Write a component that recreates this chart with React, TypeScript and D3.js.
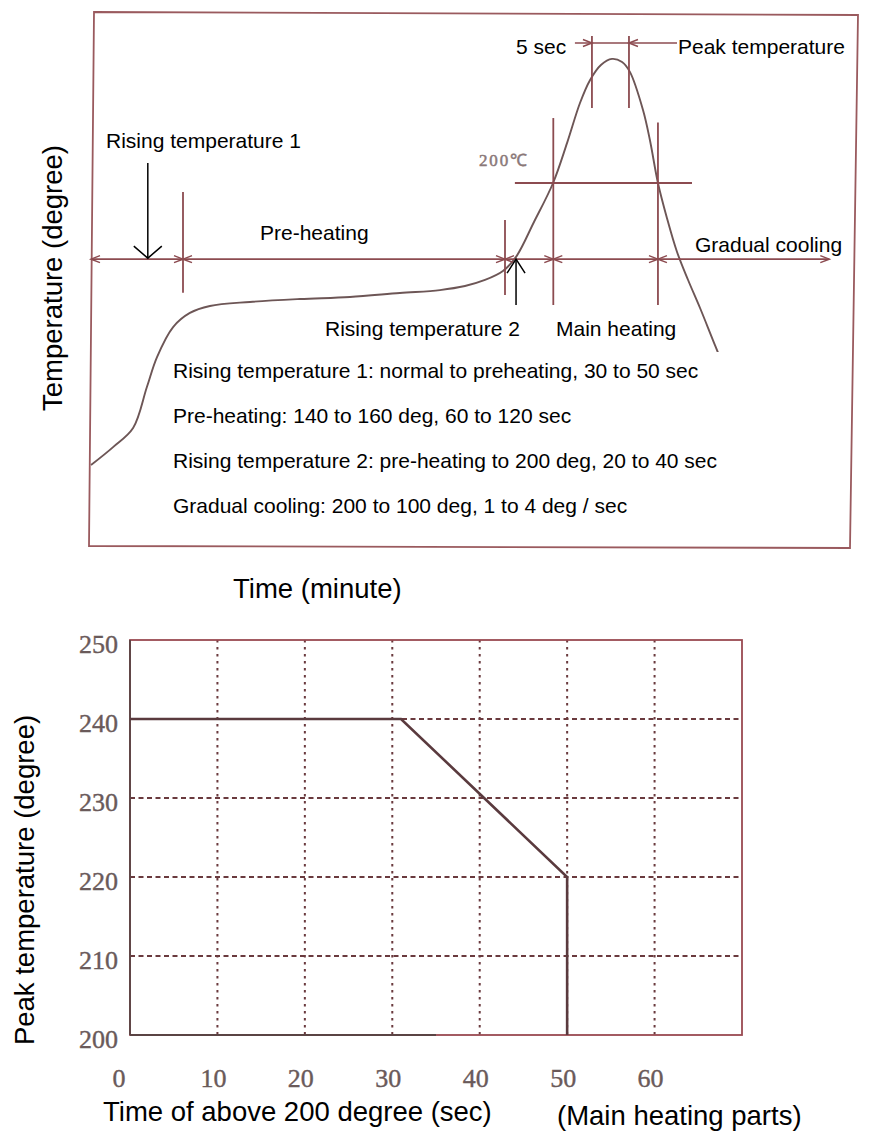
import React from 'react';
import * as d3 from 'd3';

// ---------- Top chart: reflow profile (schematic) ----------
const profileTime = [0, 9.6, 18.3, 24.3, 28.7, 35.7, 43.0, 51.7, 69.1, 90.9, 112.6, 134.3, 151.7, 162.6, 171.3, 179.1, 184.8, 192.6, 200.9, 207.0, 212.6, 217.0, 221.7, 226.5, 230.9, 234.3, 240.0, 243.0, 246.5, 250.4, 254.8, 259.6, 264.8, 270.4, 274.3, 280];
const profileTemp = [74.1, 82.1, 90.6, 108.9, 122.3, 135.7, 142.0, 145.1, 146.9, 148.2, 149.1, 150.9, 152.2, 154.0, 156.7, 160.7, 167.0, 182.6, 200, 217.9, 235.7, 246.0, 252.7, 255.4, 254.0, 249.6, 232.6, 219.2, 200, 184.4, 169.2, 156.7, 144.2, 129.9, 120.1, 107.6];

const phaseBounds = [0, 40, 180, 201, 246.5, 321];
const boundaryTickTimes = [40, 180, 201, 246.5];
const boundaryTickLow = [151, 150, 145.5, 145.5];
const boundaryTickHigh = [196, 183.5, 229, 227];
const phaseDimTemp = 166;
const reflowTemp = 200;
const reflowLineSpan = [184.3, 261.3];
const peakWindow = [217.8, 233.9];
const peakTickSpan = [233.5, 265.6];
const peakDimTemp = 262.5;
const peakDimSpan = [210.4, 254.8];
const rise1ArrowTime = 24.7;
const rise2ArrowTime = 184.8;

const notes = [
  'Rising temperature 1: normal to preheating, 30 to 50 sec',
  'Pre-heating: 140 to 160 deg, 60 to 120 sec',
  'Rising temperature 2: pre-heating to 200 deg, 20 to 40 sec',
  'Gradual cooling: 200 to 100 deg, 1 to 4 deg / sec',
];

// ---------- Bottom chart: peak temperature vs time above 200 ----------
const limitTime = [0, 31, 50, 50];
const limitPeak = [240, 240, 220, 200];
const xTickValues = [0, 10, 20, 30, 40, 50, 60];
const yTickValues = [200, 210, 220, 230, 240, 250];
const xGridValues = [10, 20, 30, 40, 50, 60];
const yGridValues = [210, 220, 230, 240];

const SANS = '"Liberation Sans", Arial, sans-serif';
const SERIF = '"Liberation Serif", "Times New Roman", serif';
const DIM = '#8c4b50';
const CURVE = '#6d5656';

function arrowHead(x: number, y: number, dir: number, len = 9, hw = 3.5) {
  return `M${x - len * dir},${y - hw}L${x},${y}L${x - len * dir},${y + hw}`;
}

export default function App() {
  const W = 882, H = 1136;
  const xT = d3.scaleLinear().domain([0, 330]).range([91, 850]);
  const yT = d3.scaleLinear().domain([0, 300]).range([631, -41]);

  const profilePts: [number, number][] = profileTime.map((t, i) => [t, profileTemp[i]]);
  const profileLine = d3.line<[number, number]>()
    .x(d => xT(d[0])).y(d => yT(d[1]))
    .curve(d3.curveCatmullRom.alpha(0.5));

  const x2 = d3.scaleLinear().domain([0, 70]).range([130, 742]);
  const y2 = d3.scaleLinear().domain([200, 250]).range([1035, 640]);
  const limitPts: [number, number][] = limitTime.map((t, i) => [t, limitPeak[i]]);
  const limitLine = d3.line<[number, number]>().x(d => x2(d[0])).y(d => y2(d[1]));

  const yDim = yT(phaseDimTemp);
  const yPeakDim = yT(peakDimTemp);

  const heads: string[] = [];
  phaseBounds.forEach((t, i) => {
    const x = xT(t);
    if (i > 0) heads.push(arrowHead(x, yDim, 1));
    if (i < phaseBounds.length - 1) heads.push(arrowHead(x, yDim, -1));
  });

  const textStyle = { fontFamily: SANS, fontSize: 21, fill: '#000' } as const;
  const bigText = { fontFamily: SANS, fontSize: 27.5, fill: '#000' } as const;
  const tickStyle = { fontFamily: SERIF, fontSize: 26, fill: '#6a5a5a', stroke: '#6a5a5a', strokeWidth: 0.4 } as const;

  const r1x = xT(rise1ArrowTime);
  const r2x = xT(rise2ArrowTime);

  return (
    <svg width={W} height={H} viewBox={`0 0 ${W} ${H}`}
      style={{ position: 'absolute', left: 0, top: 0, display: 'block', background: '#fff' }}>
      <rect x={0} y={0} width={W} height={H} fill="#fff" />

      {/* ===== Top chart ===== */}
      <path d="M94,12L858,15L850,548L89,546Z" fill="none" stroke="#9a5a5e" strokeWidth={1.8} />

      <path d={profileLine(profilePts) || ''} fill="none" stroke={CURVE} strokeWidth={1.9} />

      <line x1={xT(phaseBounds[0])} x2={xT(phaseBounds[phaseBounds.length - 1])} y1={yDim} y2={yDim}
        stroke={DIM} strokeWidth={1.6} />
      {heads.map((d, i) => <path key={i} d={d} fill="none" stroke={DIM} strokeWidth={1.5} />)}

      {boundaryTickTimes.map((t, i) => (
        <line key={i} x1={xT(t)} x2={xT(t)} y1={yT(boundaryTickHigh[i])} y2={yT(boundaryTickLow[i])}
          stroke={DIM} strokeWidth={1.8} />
      ))}

      <line x1={xT(reflowLineSpan[0])} x2={xT(reflowLineSpan[1])} y1={yT(reflowTemp)} y2={yT(reflowTemp)}
        stroke={DIM} strokeWidth={1.8} />
      <text x={479} y={166} textLength={48}
        style={{ fontFamily: SERIF, fontSize: 17, fill: '#8a7878', stroke: '#8a7878', strokeWidth: 0.5 }}>200℃</text>

      {peakWindow.map((t, i) => (
        <line key={i} x1={xT(t)} x2={xT(t)} y1={yT(peakTickSpan[1])} y2={yT(peakTickSpan[0])}
          stroke={DIM} strokeWidth={1.8} />
      ))}
      <line x1={xT(peakDimSpan[0])} x2={xT(peakDimSpan[1])} y1={yPeakDim} y2={yPeakDim} stroke={DIM} strokeWidth={1.5} />
      <path d={arrowHead(xT(peakWindow[0]), yPeakDim, 1)} fill="none" stroke={DIM} strokeWidth={1.5} />
      <path d={arrowHead(xT(peakWindow[1]), yPeakDim, -1)} fill="none" stroke={DIM} strokeWidth={1.5} />

      {/* white label boxes */}
      <rect x={323} y={305} width={370} height={50} fill="#fff" />
      <rect x={168} y={352} width={592} height={180} fill="#fff" />

      {/* black pointer arrows */}
      <line x1={r1x} x2={r1x} y1={163} y2={yDim - 1} stroke="#000" strokeWidth={1.5} />
      <path d={`M${r1x - 14},${yDim - 13}L${r1x},${yDim - 1}L${r1x + 14},${yDim - 13}`} fill="none" stroke="#000" strokeWidth={1.5} />
      <line x1={r2x} x2={r2x} y1={305} y2={yDim} stroke="#000" strokeWidth={1.5} />
      <path d={`M${r2x - 9},${yDim + 14}L${r2x},${yDim}L${r2x + 9},${yDim + 14}`} fill="none" stroke="#000" strokeWidth={1.5} />

      <text x={106} y={148} style={textStyle}>Rising temperature 1</text>
      <text x={260} y={240} style={textStyle}>Pre-heating</text>
      <text x={516} y={54} style={textStyle}>5 sec</text>
      <text x={678} y={54} style={textStyle}>Peak temperature</text>
      <text x={695} y={252} style={textStyle}>Gradual cooling</text>
      <text x={325} y={336} style={textStyle}>Rising temperature 2</text>
      <text x={556} y={336} style={textStyle}>Main heating</text>
      {notes.map((n, i) => (
        <text key={i} x={173} y={378 + i * 45} style={textStyle}>{n}</text>
      ))}
      <text transform="translate(62,278) rotate(-90)" textAnchor="middle" style={bigText}>Temperature (degree)</text>
      <text x={233} y={598} style={bigText}>Time (minute)</text>

      {/* ===== Bottom chart ===== */}
      {yGridValues.map(v => (
        <line key={'gy' + v} x1={x2(0)} x2={x2(70)} y1={y2(v)} y2={y2(v)}
          stroke="#6a3a3e" strokeWidth={1.8} strokeDasharray="5 3.5" />
      ))}
      {xGridValues.map(v => (
        <line key={'gx' + v} x1={x2(v)} x2={x2(v)} y1={y2(250)} y2={y2(200)}
          stroke="#6a3a3e" strokeWidth={2} strokeDasharray="2.5 4.5" />
      ))}
      <rect x={x2(0)} y={y2(250)} width={x2(70) - x2(0)} height={y2(200) - y2(250)}
        fill="none" stroke="#9a4a52" strokeWidth={1.8} />
      <line x1={x2(0)} x2={x2(0)} y1={y2(250)} y2={y2(200)} stroke="#5a4444" strokeWidth={1.8} />
      <line x1={x2(0)} x2={x2(35)} y1={y2(200)} y2={y2(200)} stroke="#5a4444" strokeWidth={1.8} />
      <path d={limitLine(limitPts) || ''} fill="none" stroke="#5a3a3e" strokeWidth={2.6} />

      {xTickValues.map(v => (
        <text key={'xt' + v} x={x2(v) - (v === 0 ? 11 : 4)} y={1087} textAnchor="middle" style={tickStyle}>{v}</text>
      ))}
      {yTickValues.map(v => (
        <text key={'yt' + v} x={118} y={y2(v) + 13} textAnchor="end" style={tickStyle}>{v}</text>
      ))}

      <text transform="translate(34,880) rotate(-90)" textAnchor="middle" style={bigText}>Peak temperature (degree)</text>
      <text x={103} y={1121} style={bigText}>Time of above 200 degree (sec)</text>
      <text x={557} y={1125} style={bigText}>(Main heating parts)</text>
    </svg>
  );
}
